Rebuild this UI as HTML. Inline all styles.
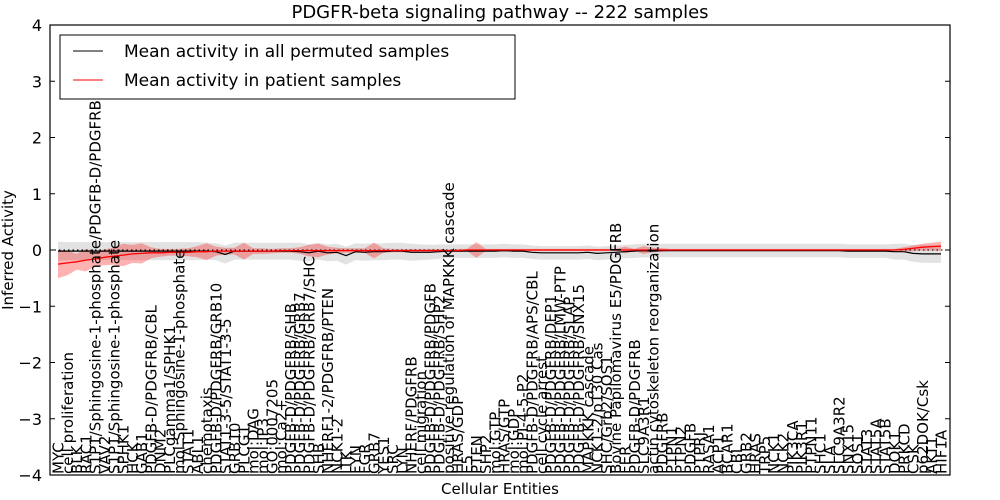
<!DOCTYPE html>
<html><head><meta charset="utf-8"><style>
body{margin:0;background:#fff}
svg{display:block;font-family:"DejaVu Sans","Liberation Sans",sans-serif}
</style></head><body>
<svg id="chart" width="1000" height="500">
<text x="500" y="18" font-size="18" text-anchor="middle">PDGFR-beta signaling pathway -- 222 samples</text>
<text transform="translate(13,250) rotate(-90)" font-size="15" text-anchor="middle">Inferred Activity</text>
<text x="500" y="494" font-size="15" text-anchor="middle">Cellular Entities</text>
<g id="bands"></g><g id="lines"></g><g id="xlabels"></g><g id="yaxis"></g>
<rect x="50" y="25" width="900" height="450" fill="none" stroke="#000" stroke-width="1.2"/>
<g>
<rect x="60" y="35" width="455" height="64" fill="#fff" stroke="#000"/>
<line x1="73" y1="51" x2="103" y2="51" stroke="#000"/>
<text x="124" y="57" font-size="17">Mean activity in all permuted samples</text>
<line x1="73" y1="80" x2="103" y2="80" stroke="red"/>
<text x="124" y="86" font-size="17">Mean activity in patient samples</text>
</g>
</svg>
<script>
const labels=["MYC","cell proliferation","BLK","RAC1","S1P1/Sphingosine-1-phosphate/PDGFB-D/PDGFRB","VAV2","S1P1/Sphingosine-1-phosphate","SPHK1","HCK","GAB1","PDGFB-D/PDGFRB/CBL","DNM2","PLCgamma1/SPHK1","mol:Sphingosine-1-phosphate","STAT1","ABL1","chemotaxis","PDGFB-D/PDGFRB/GRB10","STAT1-3-5/STAT1-3-5","GRB10","PLCG1","mol:DAG","mol:IP3","GO:0007205","mol:Ca2+","PDGFB-D/PDGFRB/SHB","PDGFB-D/PDGFRB/GRB7","PDGFB-D/PDGFRB/GRB7/SHC","SHB","NHERF1-2/PDGFRB/PTEN","NCK1-2","ITK","FYN","FGR","GRB7","YES1","SRC","LYN","NHERF/PDGFRB","cell migration","PDGFB-D/PDGFRB/PDGFB","PDGFB-D/PDGFRB/SHP2","positive regulation of MAPKKK cascade","HRAS/GDP","E5","PTEN","SHP2","mol:GTP","HRAS/GTP","mol:GDP","mol:PI-4-5-P2","PDGFB-D/PDGFRB/APS/CBL","cell cycle arrest","PDGFB-D/PDGFRB/DEP1","PDGFB-D/PDGFRB/LMW-PTP","PDGFB-D/PDGFRB/SLAP","PDGFB-D/PDGFRB/SNX15","MAPKKK cascade","NCK1-2/p130 Cas","SHC/Grb2/SOS1","Bovine Papilomavirus E5/PDGFRB","FER","PDGFB-D/PDGFRB","SLC9A3R1","actin cytoskeleton reorganization","PDGFRB","PTPN1","PTPN2","PDGFB","PTPRJ","RASA1","ACP1","BCAR1","CBL","GRB2","HRAS","TRP5","NCK1","NCK2","PIK3CA","PIK3R1","PTPN11","SHC1","SLA","SLC9A3R2","SNX15","SOS1","STAT3","STAT5A","STAT5B","DOK1","PRKCD","CSK","p62DOK/Csk","AKT1","HIF1A"];
const permMean=[-0.02,-0.02,-0.02,-0.02,-0.02,-0.02,-0.02,-0.02,-0.02,-0.02,
-0.02,-0.02,-0.02,-0.02,-0.02,-0.02,-0.02,-0.03,-0.08,-0.02,
-0.02,-0.02,-0.02,-0.02,-0.02,-0.02,-0.03,-0.05,-0.02,-0.05,
-0.04,-0.1,-0.03,-0.04,-0.03,-0.03,-0.02,-0.02,-0.04,-0.04,
-0.04,-0.03,-0.02,-0.02,-0.02,-0.02,-0.02,-0.02,-0.01,-0.02,
-0.02,-0.04,-0.05,-0.05,-0.05,-0.05,-0.05,-0.04,-0.06,-0.05,
-0.04,-0.03,-0.02,-0.01,-0.02,-0.01,-0.01,-0.01,-0.01,-0.01,
-0.01,-0.01,-0.01,-0.01,-0.01,-0.01,-0.01,-0.01,-0.01,-0.01,
-0.01,-0.01,-0.01,-0.01,-0.01,-0.02,-0.02,-0.02,-0.02,-0.02,
-0.03,-0.03,-0.06,-0.07,-0.07,-0.07];
const permSd=[0.17,0.16,0.16,0.16,0.16,0.16,0.16,0.16,0.16,0.16,
0.16,0.16,0.16,0.16,0.16,0.16,0.15,0.15,0.16,0.15,
0.15,0.15,0.15,0.15,0.15,0.15,0.16,0.15,0.15,0.15,
0.15,0.16,0.15,0.15,0.15,0.15,0.15,0.15,0.15,0.14,
0.13,0.13,0.12,0.12,0.12,0.12,0.12,0.12,0.12,0.12,
0.12,0.12,0.12,0.12,0.12,0.12,0.12,0.12,0.12,0.12,
0.12,0.12,0.12,0.12,0.12,0.12,0.12,0.12,0.12,0.12,
0.12,0.12,0.12,0.12,0.12,0.12,0.12,0.12,0.12,0.12,
0.12,0.12,0.12,0.12,0.12,0.12,0.12,0.12,0.12,0.12,
0.14,0.14,0.15,0.16,0.16,0.16];
const patMean=[-0.25,-0.23,-0.21,-0.18,-0.16,-0.13,-0.11,-0.09,-0.07,-0.06,
-0.05,-0.05,-0.04,-0.04,-0.04,-0.03,-0.03,-0.02,-0.02,-0.02,
-0.02,-0.02,-0.02,-0.02,-0.01,-0.01,-0.01,-0.01,-0.01,-0.01,
-0.01,-0.01,-0.01,-0.01,-0.01,-0.01,-0.01,-0.01,-0.01,-0.01,
-0.01,-0.01,-0.01,-0.01,0,0,0,0,0,0,
0,0,0,0,0,0,0,0,0,0,
0,0,0,0,0,0,0,0,0,0,
0,0,0,0,0,0,0,0,0,0,
0,0,0,0,0,0,0,0,0,0,
0,0.01,0.03,0.05,0.06,0.07];
const patSd=[0.25,0.22,0.14,0.2,0.13,0.14,0.15,0.2,0.16,0.18,
0.1,0.07,0.06,0.06,0.07,0.1,0.15,0.08,0.06,0.06,
0.15,0.05,0.05,0.04,0.04,0.04,0.06,0.1,0.12,0.07,
0.05,0.04,0.04,0.04,0.14,0.04,0.03,0.03,0.03,0.03,
0.03,0.03,0.02,0.03,0.02,0.14,0.02,0.02,0.02,0.02,
0.02,0.02,0.02,0.02,0.02,0.02,0.02,0.02,0.02,0.02,
0.02,0.06,0.02,0.07,0.04,0.03,0.02,0.02,0.02,0.02,
0.02,0.02,0.02,0.02,0.02,0.02,0.02,0.02,0.02,0.02,
0.02,0.02,0.02,0.02,0.02,0.02,0.02,0.02,0.02,0.02,
0.02,0.04,0.05,0.06,0.07,0.08];
const yTicks=[4,3,2,1,0,-1,-2,-3,-4];
const NS='http://www.w3.org/2000/svg';
const n=labels.length;
const xs=i=>58+i*(883/(n-1));
const ys=v=>250-v*56.25;
function mk(tag,attrs,parent){const e=document.createElementNS(NS,tag);for(const k in attrs)e.setAttribute(k,attrs[k]);parent.appendChild(e);return e;}
function band(mean,sd,fill,name){
  const m=Math.min(n,mean.length,sd.length);
  let up=[],dn=[];
  for(let i=0;i<m;i++){up.push(xs(i).toFixed(1)+','+ys(mean[i]+sd[i]).toFixed(1));dn.unshift(xs(i).toFixed(1)+','+ys(mean[i]-sd[i]).toFixed(1));}
  const p=mk('polygon',{points:up.concat(dn).join(' '),fill:fill},document.getElementById('bands'));
  
  
}
function line(mean,stroke,name,w){
  const pts=mean.slice(0,n).map((v,i)=>xs(i).toFixed(1)+','+ys(v).toFixed(1)).join(' ');
  const p=mk('polyline',{points:pts,fill:'none',stroke:stroke,'stroke-width':w},document.getElementById('lines'));
  
  
}
band(permMean,permSd,'rgba(190,190,190,0.45)','permuted-band');
band(patMean,patSd,'rgba(255,0,0,0.3)','patient-band');
const zl=mk('line',{x1:50,x2:950,y1:ys(0),y2:ys(0),stroke:'#000','stroke-dasharray':'1.5,3'},document.getElementById('lines'));


line(permMean,'#000','permuted-mean-line',1.2);
line(patMean,'red','patient-mean-line',1.3);
const xl=document.getElementById('xlabels');
labels.forEach((l,i)=>{
  const t=mk('text',{transform:'translate('+(xs(i)+5.5).toFixed(1)+',474) rotate(-90)','font-size':'15'},xl);
  t.textContent=l;
  
  
});
const ya=document.getElementById('yaxis');
yTicks.forEach(v=>{
  const t=mk('text',{x:42,y:ys(v)+6,'font-size':'16','text-anchor':'end'},ya);
  t.textContent=v<0?'\u2212'+(-v):String(v);
  
  
  const k=mk('line',{x1:50,x2:55,y1:ys(v),y2:ys(v),stroke:'#000'},ya);
  
  
  const k2=mk('line',{x1:945,x2:950,y1:ys(v),y2:ys(v),stroke:'#000'},ya);
  
  
});
</script>
</body></html>
